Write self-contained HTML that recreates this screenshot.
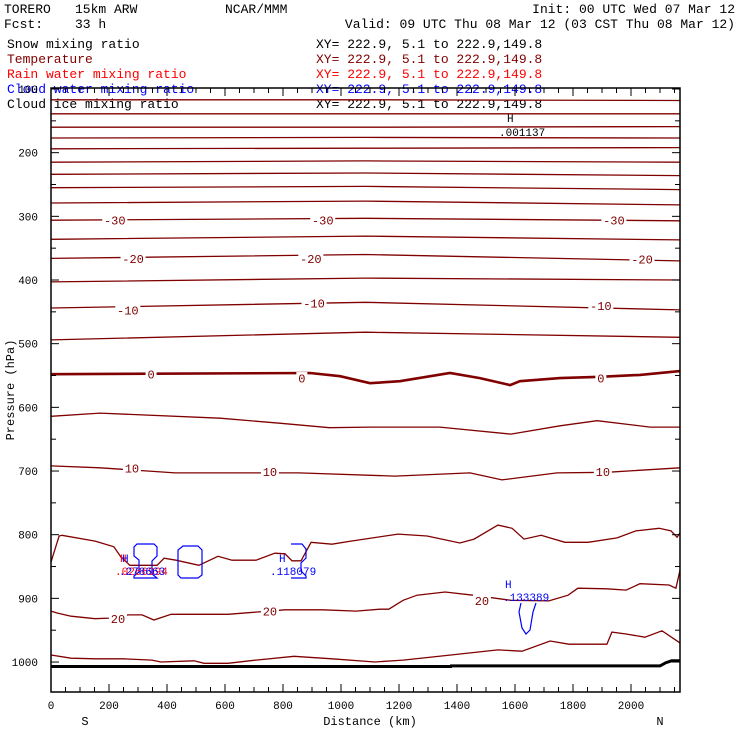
<!DOCTYPE html>
<html><head><meta charset="utf-8"><style>
body{margin:0;background:#fff;}
svg{display:block;font-family:"Liberation Mono","DejaVu Sans Mono",monospace;}
</style></head><body>
<svg id="chart" width="740" height="740" viewBox="0 0 740 740" xmlns="http://www.w3.org/2000/svg">
<rect width="740" height="740" fill="#fff"/>
<g font-size="13" fill="#000">
<text x="4" y="13">TORERO</text>
<text x="75" y="13">15km ARW</text>
<text x="225" y="13">NCAR/MMM</text>
<text x="735" y="13" text-anchor="end">Init: 00 UTC Wed 07 Mar 12</text>
<text x="4" y="28">Fcst:</text>
<text x="75" y="28">33 h</text>
<text x="735" y="28" text-anchor="end">Valid: 09 UTC Thu 08 Mar 12 (03 CST Thu 08 Mar 12)</text>
</g>
<g font-size="13">
<text x="7" y="48" fill="#000">Snow mixing ratio</text>
<text x="316" y="48" fill="#000">XY= 222.9,  5.1 to 222.9,149.8</text>
<text x="7" y="63" fill="#800000">Temperature</text>
<text x="316" y="63" fill="#800000">XY= 222.9,  5.1 to 222.9,149.8</text>
<text x="7" y="78" fill="#ff0000">Rain water mixing ratio</text>
<text x="316" y="78" fill="#ff0000">XY= 222.9,  5.1 to 222.9,149.8</text>
<text x="7" y="93" fill="#0000ff">Cloud water mixing ratio</text>
<text x="316" y="93" fill="#0000ff">XY= 222.9,  5.1 to 222.9,149.8</text>
<text x="7" y="108" fill="#000">Cloud ice mixing ratio</text>
<text x="316" y="108" fill="#000">XY= 222.9,  5.1 to 222.9,149.8</text>
</g>
<g id="plot"></g>
<g font-size="12" fill="#000">
<text x="370" y="725" text-anchor="middle">Distance (km)</text>
<text x="85" y="725" text-anchor="middle">S</text>
<text x="660" y="725" text-anchor="middle">N</text>
<text x="14" y="390" text-anchor="middle" transform="rotate(-90 14 390)">Pressure (hPa)</text>
</g>
</svg>
<script>
const xTicks=[0,200,400,600,800,1000,1200,1400,1600,1800,2000];
const yTicks=[100,200,300,400,500,600,700,800,900,1000];
const upperLevels=[-75,-70,-65,-60,-55,-50,-45,-40,-35,-30,-25,-20,-15,-10,-5];
const upperDist=[0,1084,2169];
const upperPres=[[117,117,118],[139,139,139],[160,160,159],[177,176,177],[194,193,192],[215,213,215],[234,232,236],[255,253,258],[279,276,282],[306,303,307],[336,331,337],[366,360,370],[403,397,400],[444,435,447],[494,482,490]];
const t0Dist=[0,893,997,1100,1203,1376,1479,1583,1617,1755,1893,2031,2169];
const t0Pres=[548,546,551,562,559,546,554,565,559,554,552,549,543];
const t5Dist=[0,169,583,793,960,1100,1341,1586,1755,1883,2066,2169];
const t5Pres=[614,609,617,625,632,631,631,642,629,621,631,631];
const t10Dist=[0,169,428,855,1186,1445,1555,1745,1917,2169];
const t10Pres=[692,695,703,703,708,703,714,703,702,695];
const t15Dist=[0,28,38,152,217,241,272,366,390,431,510,576,624,707,772,807,831,862,897,969,1034,1197,1297,1410,1459,1541,1590,1631,1690,1772,1852,1952,2017,2097,2138,2159,2169];
const t15Pres=[843,802,801,810,819,835,848,848,837,840,848,834,840,840,829,830,841,841,812,815,810,799,802,813,807,785,790,807,801,812,812,805,794,790,794,804,797];
const t20Dist=[0,21,69,152,200,266,314,355,414,610,807,938,1052,1134,1165,1214,1262,1359,1455,1586,1717,1783,1817,1917,1983,2031,2131,2155,2169];
const t20Pres=[920,923,928,932,931,926,926,934,925,925,918,918,920,917,917,903,895,890,895,903,904,895,884,885,887,877,879,884,856];
const t25Dist=[0,69,152,248,348,379,493,528,610,707,838,969,1117,1214,1379,1541,1624,1721,1786,1917,1934,1983,2048,2107,2169];
const t25Pres=[989,994,995,995,997,1000,998,1002,1002,997,991,995,1000,997,989,981,983,967,972,972,953,956,961,951,970];
const groundDist=[0,1379,1380,2100,2120,2140,2169];
const groundPres=[1007,1007,1006,1006,1001,998,998];
const tempLabels=[-30,-30,-30,-20,-20,-20,-10,-10,-10,0,0,0,10,10,10,20,20,20];
const tempLabelDist=[220,937,1941,283,896,2038,265,907,1896,345,865,1896,279,755,1903,231,755,1486];
const tempLabelPres=[306,306,306,366,366,367,447,436,440,548,554,554,695,701,701,932,920,903];

const NS="http://www.w3.org/2000/svg";
const L=51,R=680,T=88,B=692;
function xs(km){return L+km*0.29;}
function ys(p){return 89+(p-100)*0.6367;}
const plot=document.getElementById('plot');
function mk(tag,attrs,parent){const e=document.createElementNS(NS,tag);for(const k in attrs)e.setAttribute(k,attrs[k]);(parent||plot).appendChild(e);return e;}
function line(d,p,name,w,col){
  let s='';for(let i=0;i<d.length;i++)s+=(i?'L':'M')+xs(d[i]).toFixed(1)+','+ys(p[i]).toFixed(1);
  const e=mk('path',{d:s,fill:'none',stroke:col||'#800000','stroke-width':w||1.3});
  
  
}
upperPres.forEach((pr,i)=>line(upperDist,pr,'isotherm-'+upperLevels[i]));
line(t0Dist,t0Pres,'isotherm-0',2.6);
line(t5Dist,t5Pres,'isotherm-5');
line(t10Dist,t10Pres,'isotherm-10');
line(t15Dist,t15Pres,'isotherm-15');
line(t20Dist,t20Pres,'isotherm-20');
line(t25Dist,t25Pres,'isotherm-25');
line(groundDist,groundPres,'ground-surface',3,'#000');
tempLabels.forEach((v,i)=>{
  const x=xs(tempLabelDist[i]),y=ys(tempLabelPres[i]);
  const w=String(v).length*7+4;
  const r=mk('rect',{x:x-w/2,y:y-6,width:w,height:12,fill:'#fff'});
  
  
  const t=mk('text',{x:x,y:y+4.5,'text-anchor':'middle','font-size':12,fill:'#800000'});
  t.textContent=v;
  
  
});
const cw=[
 'M146,544 L137,544 L134,547 L134,556 L139,560 L139,572 L134,576 L134,578 L148,578 M146,544 L154,544 L157,547 L157,556 L152,561 L152,574 L157,578 L148,578',
 'M183,546 L198,546 L202,550 L202,575 L198,578 L181,578 L178,575 L178,550 Z',
 'M291,544 L302,544 L306,549 L306,558 L301,563 L301,571 L306,576 L306,578 L291,578',
 'M521,603 L519,612 L522,628 L526,634 L530,630 L533,612 L536,603'
];
cw.forEach(d=>{const e=mk('path',{d:d,fill:'none',stroke:'#0000ff','stroke-width':1.2});
 
 });
function txt(x,y,s,col,name){const t=mk('text',{x:x,y:y,'font-size':11,fill:col});t.textContent=s;
 
 }
txt(120,562,'H','#ff0000','rain-max-marker');
txt(122,562,'H','#0000ff','cloud-water-max-marker');
txt(115,575,'.0266994','#ff0000','rain-max-value');
txt(119,575,'.278663','#0000ff','cloud-water-max-value');
txt(279,562,'H','#0000ff','cloud-water-max-marker-2');
txt(270,575,'.118079','#0000ff','cloud-water-max-value-2');
txt(505,588,'H','#0000ff','cloud-water-max-marker-3');
txt(503,601,'.133389','#0000ff','cloud-water-max-value-3');
txt(507,122,'H','#000','cloud-ice-max-marker');
txt(499,136,'.001137','#000','cloud-ice-max-value');
const fr=mk('rect',{x:L,y:T,width:R-L,height:B-T,fill:'none',stroke:'#000','stroke-width':1.5});


for(let km=0;km<=2169;km+=50){
  const x=xs(km),big=km%200===0;const h=big?8:5;
  const a=mk('line',{x1:x,x2:x,y1:B,y2:B-h,stroke:'#000'});
  
  
  const b=mk('line',{x1:x,x2:x,y1:T,y2:T+h,stroke:'#000'});
  
  
}
xTicks.forEach(v=>{const t=mk('text',{x:xs(v),y:709,'text-anchor':'middle','font-size':11,fill:'#000'});t.textContent=v;
 
 });
for(let p=100;p<=1040;p+=50){
  const y=ys(p),big=p%100===0,h=big?8:5;
  const a=mk('line',{x1:L,x2:L+h,y1:y,y2:y,stroke:'#000'});
  
  
  const b=mk('line',{x1:R,x2:R-h,y1:y,y2:y,stroke:'#000'});
  
  
}
yTicks.forEach(v=>{const t=mk('text',{x:38,y:ys(v)+4,'text-anchor':'end','font-size':11,fill:'#000'});t.textContent=v;
 
 });
</script>
</body></html>
